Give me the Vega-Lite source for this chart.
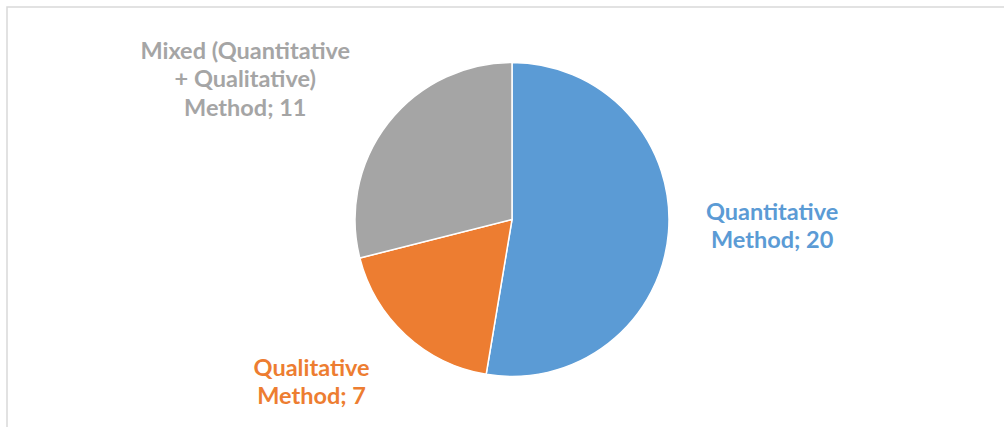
{
  "$schema": "https://vega.github.io/schema/vega-lite/v6.json",
  "autosize": {"type": "none"},
  "padding": {"left": 7, "top": 7, "right": 0, "bottom": 0},
  "width": 1010,
  "height": 425,
  "background": "white",
  "view": {"stroke": "#d9d9d9", "strokeWidth": 1.5},
  "data": {
    "values": [
      {"method": "Quantitative Method", "value": 20, "order": 1, "label": "Quantitative\nMethod; 20"},
      {"method": "Qualitative Method", "value": 7, "order": 2, "label": "Qualitative\nMethod; 7"},
      {"method": "Mixed (Quantitative + Qualitative) Method", "value": 11, "order": 3, "label": "Mixed (Quantitative\n+ Qualitative)\nMethod; 11"}
    ]
  },
  "encoding": {
    "theta": {"field": "value", "type": "quantitative", "stack": true},
    "order": {"field": "order", "type": "quantitative"}
  },
  "layer": [
    {
      "mark": {"type": "arc", "outerRadius": 157, "stroke": "white", "strokeWidth": 1.5},
      "encoding": {
        "color": {
          "field": "method", "type": "nominal", "legend": null,
          "scale": {
            "domain": ["Quantitative Method", "Qualitative Method", "Mixed (Quantitative + Qualitative) Method"],
            "range": ["#5B9BD5", "#ED7D31", "#A5A5A5"]
          }
        }
      }
    },
    {
      "mark": {"type": "text", "radius": 261, "dy": -28.5, "font": "Lato", "fontWeight": "bold", "fontSize": 23.5, "lineBreak": "\n", "lineHeight": 28, "align": "center", "baseline": "middle", "color": "#5B9BD5"},
      "encoding": {
        "text": {"condition": {"test": "datum.order === 1", "field": "label"}, "value": ""}
      }
    },
    {
      "mark": {"type": "text", "radius": 259, "dx": -25, "dy": -41, "font": "Lato", "fontWeight": "bold", "fontSize": 23.5, "lineBreak": "\n", "lineHeight": 28, "align": "center", "baseline": "middle", "color": "#ED7D31"},
      "encoding": {
        "text": {"condition": {"test": "datum.order === 2", "field": "label"}, "value": ""}
      }
    },
    {
      "mark": {"type": "text", "radius": 300, "dx": -30, "dy": 16.5, "font": "Lato", "fontWeight": "bold", "fontSize": 23.5, "lineBreak": "\n", "lineHeight": 28.5, "align": "center", "baseline": "middle", "color": "#A5A5A5"},
      "encoding": {
        "text": {"condition": {"test": "datum.order === 3", "field": "label"}, "value": ""}
      }
    }
  ]
}
